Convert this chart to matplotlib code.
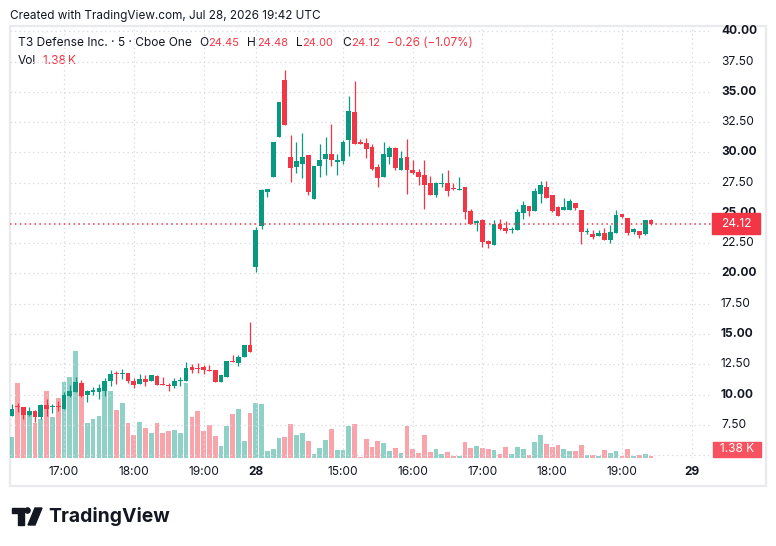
import matplotlib
matplotlib.use("Agg")
import matplotlib.pyplot as plt
from matplotlib.patches import Rectangle, Polygon, Circle

# --- data (5 min bars, T3 Defense Inc., Cboe One) ---
# day 27: 16:15 .. 19:40, day 28: 13:45 .. 19:25
opens = [8.27, 8.98, 8.98, 8.32, 8.62, 8.13, 9.12, 8.98, 9.04, 8.82,
         9.84, 10.25, 10.97, 10.00, 10.25, 10.25, 10.33, 11.08, 11.77, 11.71,
         11.80, 11.13, 10.86, 11.30, 11.11, 11.55, 10.80, 10.75, 10.72, 11.11,
         11.08, 12.29, 12.18, 12.27, 12.05, 12.05, 11.00, 11.49, 12.79, 12.63,
         13.07, 14.11,
         20.50, 23.90, 26.72, 27.96, 31.27, 35.96, 29.59, 28.79, 29.04, 29.76,
         26.14, 28.87, 29.45, 29.84, 29.20, 29.29, 30.99, 33.32, 30.90, 30.75,
         30.42, 28.76, 27.96, 29.62, 30.34, 28.54, 29.59, 28.51, 28.35, 28.10,
         27.44, 26.47, 27.38, 27.44, 27.05, 26.89, 27.11, 25.20, 24.19, 24.38,
         22.67, 22.34, 24.11, 23.72, 23.56, 23.56, 24.99, 25.54, 25.13, 26.56,
         27.11, 26.45, 25.46, 25.21, 25.21, 25.79, 25.21, 23.39, 23.22, 23.06,
         23.31, 22.73, 23.33, 24.88, 24.55, 23.39, 23.47, 23.25, 24.45]
highs = [9.20, 9.34, 8.98, 9.01, 8.73, 9.20, 9.62, 9.18, 9.45, 10.17,
         10.80, 11.44, 11.19, 10.39, 10.61, 10.89, 11.36, 12.05, 11.91, 12.10,
         11.80, 11.36, 11.71, 11.60, 11.60, 11.60, 11.47, 10.98, 11.33, 11.49,
         12.71, 12.49, 12.60, 12.40, 12.43, 12.05, 11.63, 12.79, 13.26, 13.29,
         14.11, 16.02,
         23.80, 26.95, 26.94, 30.83, 34.14, 36.79, 31.41, 30.83, 31.58, 29.76,
         28.85, 30.67, 31.25, 32.32, 29.84, 31.00, 34.64, 35.88, 31.08, 31.16,
         30.67, 29.04, 30.83, 30.50, 30.42, 30.09, 31.08, 29.34, 28.60, 29.34,
         28.02, 27.55, 28.26, 28.51, 27.44, 27.93, 27.11, 25.30, 24.38, 24.47,
         22.78, 24.38, 24.47, 24.30, 23.83, 25.29, 25.96, 25.54, 27.03, 27.61,
         27.61, 26.45, 25.54, 26.20, 26.12, 25.79, 25.21, 23.72, 23.56, 23.56,
         23.72, 23.97, 25.21, 24.88, 24.55, 23.78, 23.47, 24.38, 24.48]
lows = [8.27, 8.54, 8.02, 8.24, 7.74, 7.96, 8.27, 8.46, 8.65, 8.82,
        9.78, 10.25, 9.78, 9.42, 9.98, 9.67, 9.89, 10.67, 10.86, 11.30,
        10.94, 10.56, 10.86, 10.67, 11.11, 10.75, 10.75, 10.33, 10.53, 10.72,
        11.08, 11.82, 11.80, 11.71, 11.91, 11.00, 11.00, 11.49, 12.65, 12.32,
        13.07, 13.48,
        20.10, 23.70, 26.31, 27.96, 31.27, 32.27, 27.55, 28.29, 27.88, 26.50,
        26.14, 27.96, 28.13, 28.87, 28.13, 29.04, 29.70, 30.70, 30.70, 29.54,
        28.54, 27.13, 27.96, 29.04, 28.54, 28.54, 26.55, 28.21, 27.30, 25.31,
        26.47, 26.31, 27.13, 26.39, 26.89, 26.89, 24.49, 24.10, 23.50, 22.17,
        22.09, 22.34, 23.56, 23.33, 23.33, 23.56, 24.47, 24.74, 25.13, 25.82,
        26.23, 25.07, 24.74, 25.21, 25.21, 25.21, 22.40, 23.22, 22.84, 23.06,
        22.75, 22.51, 23.33, 24.58, 23.17, 23.25, 22.92, 23.17, 24.00]
closes = [8.82, 8.95, 8.32, 8.65, 8.13, 9.12, 8.82, 9.04, 8.98, 9.95,
          10.31, 11.05, 9.92, 10.31, 10.33, 10.53, 11.13, 11.71, 11.69, 11.82,
          11.16, 10.80, 11.30, 11.05, 11.60, 10.75, 10.75, 10.72, 11.13, 11.16,
          12.18, 12.05, 12.13, 11.99, 11.91, 11.00, 11.63, 12.79, 12.65, 13.10,
          14.11, 13.48,
          23.60, 26.86, 26.94, 30.83, 34.14, 32.27, 28.71, 29.26, 29.59, 26.72,
          28.85, 29.34, 29.84, 29.34, 29.34, 30.83, 33.40, 30.70, 30.70, 30.28,
          28.62, 27.88, 29.84, 30.34, 28.71, 29.51, 28.54, 28.29, 27.96, 27.30,
          26.47, 27.44, 27.46, 26.80, 26.97, 26.97, 25.06, 24.10, 24.30, 22.59,
          22.45, 24.05, 23.64, 23.47, 23.64, 25.05, 25.62, 25.13, 26.78, 27.28,
          26.23, 25.13, 24.74, 25.46, 25.96, 25.38, 23.42, 23.50, 23.00, 23.31,
          22.75, 23.42, 24.80, 24.66, 23.33, 23.64, 23.17, 24.38, 24.12]
# volume in thousands of shares
volumes = [17.0, 60.8, 41.3, 37.3, 28.4, 31.6, 54.3, 33.2, 48.6, 61.6,
           65.6, 86.7, 50.2, 28.4, 31.6, 34.0, 54.3, 54.3, 38.9, 44.6,
           28.4, 18.6, 29.2, 24.3, 20.3, 28.4, 20.3, 21.9, 22.7, 20.3,
           60.8, 33.2, 38.1, 21.9, 26.7, 17.8, 9.7, 25.9, 35.6, 39.7,
           13.8, 36.5,
           44.6, 43.7, 5.7, 7.3, 16.2, 17.0, 27.5, 18.6, 20.3, 13.8,
           3.2, 8.1, 14.6, 23.5, 6.5, 6.5, 25.9, 27.5, 0.8, 15.4,
           8.9, 13.8, 12.2, 5.7, 8.1, 4.1, 25.9, 7.3, 4.1, 18.6,
           4.9, 7.3, 3.2, 4.9, 1.6, 1.6, 12.7, 7.9, 9.5, 7.9,
           7.0, 6.2, 3.0, 8.7, 3.0, 8.7, 7.0, 2.2, 12.7, 18.4,
           11.1, 8.7, 10.3, 7.0, 5.4, 5.4, 10.3, 2.2, 2.2, 1.4,
           6.2, 3.8, 5.4, 1.4, 7.0, 1.4, 2.2, 3.0, 1.38]

time_tick_pos = [9, 21, 33, 42, 57, 69, 81, 93, 105, 117]
time_tick_labels = ["17:00", "18:00", "19:00", "28", "15:00", "16:00",
                    "17:00", "18:00", "19:00", "29"]
price_ticks = [7.5, 10, 12.5, 15, 17.5, 20, 22.5, 25, 27.5, 30, 32.5, 35, 37.5, 40]
last_price = 24.12
last_volume_label = "1.38 K"

UP = "#089981"
DOWN = "#F23645"
TEXT = "#131722"
GRID = "#d6d8de"

plt.rcParams["font.family"] = ["Inter", "DejaVu Sans"]

W, H = 776, 546
fig = plt.figure(figsize=(W / 100, H / 100), dpi=100)
fig.patch.set_facecolor("white")
renderer = fig.canvas.get_renderer()


def rect(x0, y0, x1, y1):
    # pixel box (top-left origin) -> figure fraction
    return [x0 / W, 1 - y1 / H, (x1 - x0) / W, (y1 - y0) / H]


def fit_width(txt, width_px):
    # scale the font so the text is as wide as in the screenshot
    w = txt.get_window_extent(renderer).width
    txt.set_fontsize(txt.get_fontsize() * width_px / w)


# pixel overlay for header, frame and logo
bg = fig.add_axes([0, 0, 1, 1])
bg.set_xlim(0, W)
bg.set_ylim(H, 0)
bg.axis("off")

pane = rect(10, 26, 712, 458)
axv = fig.add_axes(pane)
ax = fig.add_axes(pane)
ax.patch.set_alpha(0)

n = len(closes)
xs = list(range(n))
xlim = (-0.3, 120.5)

# volume
vcolors = [UP if c >= o else DOWN for o, c in zip(opens, closes)]
axv.bar(xs, volumes, width=0.82, color=vcolors, alpha=0.45, linewidth=0)
axv.set_xlim(*xlim)
axv.set_ylim(0, 350)
axv.axis("off")

# grid
for p in [5.0] + price_ticks:
    ax.axhline(p, color=GRID, lw=0.9, ls=(0, (1, 2.6)), zorder=0)
for t in time_tick_pos:
    ax.axvline(t, color=GRID, lw=0.9, ls=(0, (1, 2.6)), zorder=0)

# candles
for i in xs:
    o, h_, l, c = opens[i], highs[i], lows[i], closes[i]
    col = UP if c >= o else DOWN
    ax.vlines(i, l, h_, color=col, lw=0.9, zorder=2)
    ax.bar(i, max(abs(c - o), 0.09), bottom=min(o, c), width=0.82,
           color=col, linewidth=0, zorder=3)

ax.axhline(last_price, color=DOWN, lw=1.1, ls=(0, (1, 2.2)), zorder=4)

ax.set_xlim(*xlim)
ax.set_ylim(4.76, 40.44)
ax.set_xticks([])
ax.set_yticks([])
for s in ax.spines.values():
    s.set_visible(False)
for s in axv.spines.values():
    s.set_visible(False)

FS = 8.6

# price scale labels
ytr = ax.get_yaxis_transform()
for p in price_ticks:
    bold = p % 5 == 0
    ax.text(1.0128, p, f"{p:.2f}", transform=ytr, ha="left", va="center",
            fontsize=FS, color=TEXT, fontweight="bold" if bold else "normal",
            clip_on=False)

# last price tag
ax.add_patch(Rectangle((1.0, last_price - 0.87), 48 / 702, 1.74, transform=ytr,
                       color=DOWN, clip_on=False, zorder=5))
ax.text(1.0 + 24 / 702, last_price, f"{last_price:.2f}", transform=ytr,
        ha="center", va="center", fontsize=FS, color="white", zorder=6,
        clip_on=False)

# volume tag
bg.add_patch(Rectangle((713, 442), 48, 15, color="#F7525F", zorder=5))
bg.text(737, 449.5, last_volume_label, ha="center", va="center",
        fontsize=FS, color="white", zorder=6)

# time scale labels
xtr = ax.get_xaxis_transform()
for t, lab in zip(time_tick_pos, time_tick_labels):
    bold = ":" not in lab
    ax.text(t, -0.0324, lab, transform=xtr, ha="center", va="center",
            fontsize=FS, color=TEXT, fontweight="bold" if bold else "normal",
            clip_on=False)

# frame
bg.add_patch(Rectangle((10, 26), 756, 460, fill=False, edgecolor="#e8eaee", lw=1.6))

# header
t = bg.text(10, 16, "Created with TradingView.com, Jul 28, 2026 19:42 UTC",
            ha="left", va="center", fontsize=9, color=TEXT)
fit_width(t, 312)

# legend, pieces placed where the screenshot has them
legend = [(18, "T3 Defense Inc. · 5 · Cboe One", TEXT, 174),
          (199, "O", TEXT, None), (208, "24.45", DOWN, 31),
          (247, "H", TEXT, None), (257, "24.48", DOWN, 31),
          (296, "L", TEXT, None), (302, "24.00", DOWN, 31),
          (342, "C", TEXT, None), (351, "24.12", DOWN, 29),
          (387, "\u22120.26 (\u22121.07%)", DOWN, 86)]
for x, s, c, wpx in legend:
    t = bg.text(x, 43, s, color=c, va="center", fontsize=8.6)
    if wpx:
        fit_width(t, wpx)
bg.text(18, 61, "Vol", color=TEXT, va="center", fontsize=8.6)
bg.text(43, 61, "1.38\u2009K", color=DOWN, va="center", fontsize=8.6)

# logo
bg.add_patch(Polygon([(12, 508), (24, 508), (24, 525), (18, 525), (18, 513), (12, 513)],
                     closed=True, color="#131722"))
bg.add_patch(Circle((27.5, 510.5), 2.6, color="#131722"))
bg.add_patch(Polygon([(35, 508), (42, 508), (35, 525), (28, 525)], closed=True,
                     color="#131722"))
t = bg.text(48, 516, "TradingView", ha="left", va="center", fontsize=14,
            fontweight="bold", color="#131722")
fit_width(t, 122)

fig.savefig("out.png", dpi=100)
